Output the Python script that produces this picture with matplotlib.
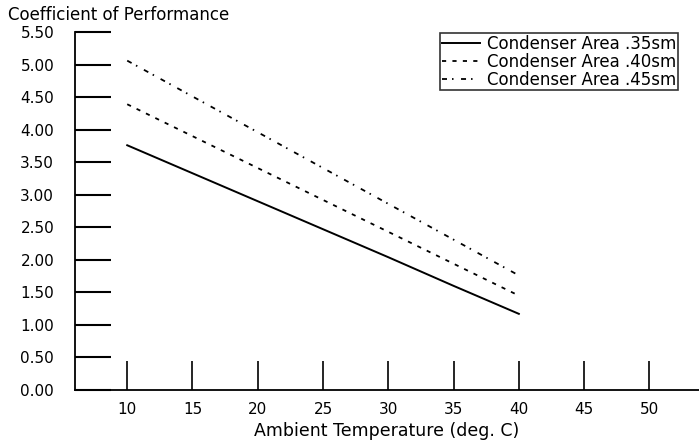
import matplotlib

matplotlib.use("Agg")
import matplotlib.pyplot as plt
from matplotlib.ticker import FormatStrFormatter, MultipleLocator

temps = [10, 15, 20, 25, 30, 35, 40]
cop_35 = [3.76, 3.33, 2.90, 2.47, 2.04, 1.60, 1.17]
cop_40 = [4.39, 3.90, 3.41, 2.92, 2.43, 1.94, 1.45]
cop_45 = [5.06, 4.51, 3.96, 3.41, 2.86, 2.31, 1.76]
labels = ["Condenser Area .35sm", "Condenser Area .40sm", "Condenser Area .45sm"]

plt.rcParams["font.family"] = ["DejaVu Sans"]
plt.rcParams["lines.scale_dashes"] = False

fig = plt.figure(figsize=(6.99, 4.42), dpi=100)
ax = fig.add_axes([75 / 699, 52 / 442, 624 / 699, 358 / 442])

ax.plot(temps, cop_35, color="black", linewidth=1.4, label=labels[0])
ax.plot(temps, cop_40, color="black", linewidth=1.3, dashes=(3, 4.5), label=labels[1])
ax.plot(temps, cop_45, color="black", linewidth=1.3, dashes=(3.6, 3.6, 1.1, 5.4), label=labels[2])

ax.set_xlim(6.0, 53.8)
ax.set_ylim(0, 5.5)
ax.yaxis.set_major_locator(MultipleLocator(0.5))
ax.yaxis.set_major_formatter(FormatStrFormatter("%.2f"))
ax.set_xticks(range(10, 51, 5))

for side in ["top", "right"]:
    ax.spines[side].set_visible(False)
for side in ["left", "bottom"]:
    ax.spines[side].set_linewidth(1.3)

ax.tick_params(axis="y", direction="in", length=26, width=1.5, pad=15, labelsize=11)
ax.tick_params(axis="x", direction="in", length=21, width=1.2, pad=9, labelsize=11)

ax.set_xlabel("Ambient Temperature (deg. C)", fontsize=12.5, labelpad=3)
fig.text(8 / 699, 1 - 15 / 442, "Coefficient of Performance", fontsize=12, va="center", ha="left")

leg = ax.legend(
    loc="upper right",
    bbox_to_anchor=(678 / 699, 1 - 33 / 442),
    bbox_transform=fig.transFigure,
    borderaxespad=0,
    fancybox=False,
    frameon=True,
    fontsize=12,
    handlelength=2.3,
    labelspacing=0.0,
    borderpad=0.1,
    handletextpad=0.4,
)
leg.get_frame().set_edgecolor("black")
leg.get_frame().set_linewidth(1.2)

fig.savefig("out.png", dpi=100)
